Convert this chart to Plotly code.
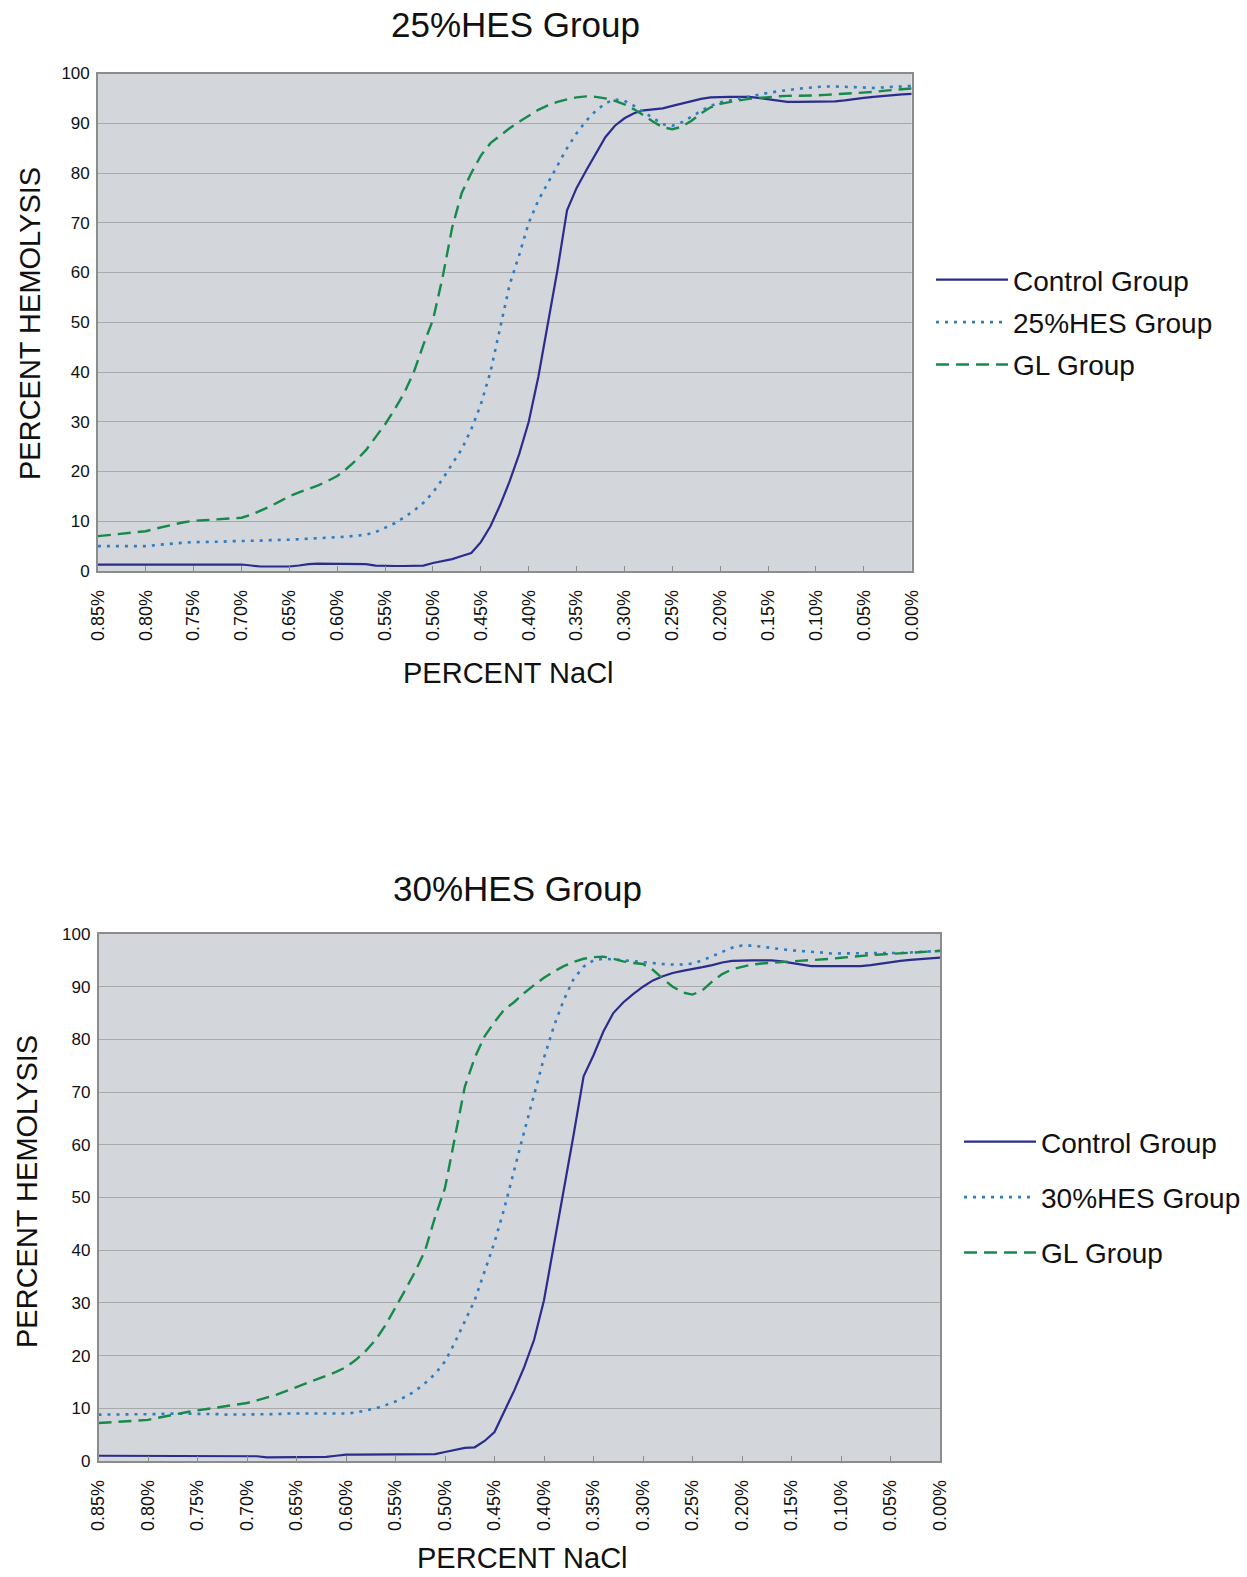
import plotly.graph_objects as go

# NaCl concentration (%) at each measurement point, high to low
nacl = [
    0.85, 0.84, 0.83, 0.82, 0.81, 0.80, 0.79, 0.78, 0.77, 0.76,
    0.75, 0.74, 0.73, 0.72, 0.71, 0.70, 0.69, 0.68, 0.67, 0.66,
    0.65, 0.64, 0.63, 0.62, 0.61, 0.60, 0.59, 0.58, 0.57, 0.56,
    0.55, 0.54, 0.53, 0.52, 0.51, 0.50, 0.49, 0.48, 0.47, 0.46,
    0.45, 0.44, 0.43, 0.42, 0.41, 0.40, 0.39, 0.38, 0.37, 0.36,
    0.35, 0.34, 0.33, 0.32, 0.31, 0.30, 0.29, 0.28, 0.27, 0.26,
    0.25, 0.24, 0.23, 0.22, 0.21, 0.20, 0.19, 0.18, 0.17, 0.16,
    0.15, 0.14, 0.13, 0.12, 0.11, 0.10, 0.09, 0.08, 0.07, 0.06,
    0.05, 0.04, 0.03, 0.02, 0.01, 0.00,
]

tick_vals = [0.85, 0.80, 0.75, 0.70, 0.65, 0.60, 0.55, 0.50, 0.45,
             0.40, 0.35, 0.30, 0.25, 0.20, 0.15, 0.10, 0.05, 0.00]
tick_text = ["0.85%", "0.80%", "0.75%", "0.70%", "0.65%", "0.60%",
             "0.55%", "0.50%", "0.45%", "0.40%", "0.35%", "0.30%",
             "0.25%", "0.20%", "0.15%", "0.10%", "0.05%", "0.00%"]

# ---- 25% HES experiment: percent hemolysis ----
control_25 = [
    1.3, 1.3, 1.3, 1.3, 1.3, 1.3, 1.3, 1.3, 1.3, 1.3,
    1.3, 1.3, 1.3, 1.3, 1.3, 1.3, 1.1, 0.9, 0.9, 0.9,
    0.9, 1.1, 1.4, 1.5, 1.5, 1.5, 1.5, 1.5, 1.4, 1.1,
    1.0, 1.0, 1.0, 1.0, 1.1, 1.6, 2.0, 2.4, 3.0, 3.6,
    5.8, 9.0, 13.2, 18.0, 23.5, 30.0, 39.0, 49.5, 60.5, 72.5,
    77.0, 80.5, 84.0, 87.2, 89.5, 91.0, 92.0, 92.6, 92.8, 93.0,
    93.5, 94.0, 94.5, 94.9, 95.2, 95.3, 95.3, 95.3, 95.3, 95.1,
    94.8, 94.5, 94.3, 94.3, 94.3, 94.3, 94.3, 94.4, 94.6, 94.9,
    95.1, 95.3, 95.5, 95.6, 95.8, 95.9,
]
hes_25 = [
    5.0, 5.0, 5.0, 5.0, 5.0, 5.0, 5.2, 5.4, 5.6, 5.7,
    5.8, 5.8, 5.9, 5.9, 6.0, 6.0, 6.0, 6.1, 6.2, 6.2,
    6.3, 6.4, 6.5, 6.5, 6.6, 6.7, 6.9, 7.1, 7.3, 7.8,
    8.7, 9.6, 10.8, 12.1, 13.7, 15.8, 18.5, 21.5, 24.5, 28.5,
    33.5, 40.0, 49.0, 57.5, 63.5, 70.0, 74.5, 78.0, 81.5, 85.0,
    88.0, 90.5, 92.5, 94.0, 94.8, 94.5, 93.5, 92.3, 91.0, 89.8,
    89.5, 90.2, 91.3, 92.5, 93.5, 94.2, 94.6, 95.0, 95.4, 95.8,
    96.1, 96.4, 96.7, 96.9, 97.1, 97.3, 97.4, 97.4, 97.3, 97.2,
    97.1, 97.1, 97.2, 97.3, 97.4, 97.5,
]
gl_25 = [
    7.0, 7.2, 7.4, 7.6, 7.8, 8.0, 8.5, 9.0, 9.4, 9.8,
    10.1, 10.2, 10.3, 10.4, 10.5, 10.7, 11.3, 12.1, 13.0, 14.0,
    15.0, 15.8, 16.5, 17.2, 18.1, 19.1, 20.6, 22.3, 24.3, 26.8,
    29.5, 32.5, 35.8, 40.0, 45.5, 50.5, 59.0, 69.0, 76.0, 80.0,
    83.5, 86.0, 87.5, 89.0, 90.3, 91.5, 92.7, 93.6, 94.3, 94.8,
    95.2, 95.4, 95.3, 95.0, 94.5, 93.8, 92.8, 91.6, 90.3, 89.2,
    88.8, 89.3, 90.5, 92.0, 93.2, 93.9, 94.3, 94.6, 94.9, 95.1,
    95.3, 95.4, 95.5, 95.5, 95.6, 95.6, 95.7, 95.8, 95.9, 96.0,
    96.1, 96.3, 96.5, 96.7, 96.9, 97.0,
]

# ---- 30% HES experiment: percent hemolysis ----
control_30 = [
    1.0, 1.0, 1.0, 1.0, 1.0, 1.0, 1.0, 1.0, 1.0, 1.0,
    1.0, 1.0, 1.0, 1.0, 1.0, 1.0, 0.9, 0.7, 0.7, 0.7,
    0.7, 0.7, 0.7, 0.8, 1.0, 1.2, 1.2, 1.2, 1.2, 1.2,
    1.2, 1.2, 1.2, 1.2, 1.3, 1.7, 2.1, 2.5, 2.6, 3.8,
    5.5, 9.3, 13.4, 17.8, 23.0, 30.5, 41.0, 51.0, 62.0, 73.0,
    77.0, 81.5, 85.0, 87.0, 88.6, 90.0, 91.2, 92.0, 92.6, 93.0,
    93.3, 93.7, 94.1, 94.6, 94.9, 95.0, 95.0, 95.0, 95.0, 94.8,
    94.5, 94.2, 93.9, 93.9, 93.9, 93.9, 93.9, 93.9, 94.1, 94.4,
    94.7, 94.9, 95.1, 95.2, 95.4, 95.5,
]
hes_30 = [
    8.8, 8.8, 8.8, 8.8, 8.8, 8.8, 8.9, 9.0, 9.0, 9.0,
    9.0, 9.0, 8.9, 8.8, 8.8, 8.8, 8.8, 8.8, 8.9, 9.0,
    9.0, 9.0, 9.0, 9.0, 9.0, 9.0, 9.2, 9.6, 10.0, 10.6,
    11.3, 12.2, 13.3, 14.8, 16.5, 18.9, 22.5, 26.5, 30.5, 36.0,
    41.5, 48.0, 55.5, 62.5, 69.5, 76.5, 82.5, 87.5, 91.5, 93.8,
    95.0, 95.3, 95.2, 95.0, 94.9, 94.7, 94.5, 94.3, 94.2, 94.2,
    94.4, 95.0, 95.8, 96.6, 97.4, 97.8, 97.8, 97.6, 97.3, 97.1,
    96.9, 96.8, 96.6, 96.5, 96.3, 96.3, 96.3, 96.3, 96.3, 96.3,
    96.4, 96.4, 96.5, 96.6, 96.7, 96.8,
]
gl_30 = [
    7.2, 7.3, 7.4, 7.5, 7.6, 7.8, 8.2, 8.6, 9.0, 9.3,
    9.6, 9.9, 10.2, 10.5, 10.7, 11.0, 11.5, 12.0, 12.6, 13.3,
    14.0, 14.7, 15.4, 16.1, 16.9, 17.8, 19.2, 20.9, 23.0, 25.8,
    29.1, 32.5, 36.0, 40.0, 46.3, 51.8, 61.4, 71.0, 76.5, 80.6,
    83.3, 85.7, 87.1, 88.8, 90.3, 91.7, 92.9, 93.9, 94.7, 95.3,
    95.6, 95.7, 95.3, 94.8, 94.5, 94.3, 93.2, 91.5, 90.0, 88.9,
    88.5, 89.3, 91.0, 92.4, 93.3, 93.8, 94.2, 94.4, 94.6, 94.7,
    94.8, 94.9, 95.0, 95.1, 95.3, 95.5, 95.7, 95.9, 96.0, 96.1,
    96.2, 96.3, 96.4, 96.5, 96.6, 96.8,
]

W, H = 1247, 1577
FONT = "Liberation Sans, Arial, sans-serif"
NAVY = "#2a2d8c"
BLUE = "#2f7cc0"
GREEN = "#17894b"
PLOT_BG = "#d3d6db"
GRID = "#a7a9ad"
FRAME = "#8c8c8c"


def px_x(v):
    return v / W


def px_y(v):
    return 1 - v / H


series = [
    ("Control Group", control_25, control_30, NAVY, "solid", 2.2),
    (None, hes_25, hes_30, BLUE, "3px,6px", 2.6),
    ("GL Group", gl_25, gl_30, GREEN, "13px,7px", 2.4),
]

fig = go.Figure()
for idx, (name, top_vals, bottom_vals, color, dash, width) in enumerate(series):
    top_name = name if name else "25%HES Group"
    bot_name = name if name else "30%HES Group"
    fig.add_trace(go.Scatter(
        x=nacl, y=top_vals, mode="lines", name=top_name,
        line=dict(color=color, dash=dash, width=width),
        xaxis="x", yaxis="y", legend="legend", legendgroup="a%d" % idx,
    ))
    fig.add_trace(go.Scatter(
        x=nacl, y=bottom_vals, mode="lines", name=bot_name,
        line=dict(color=color, dash=dash, width=width),
        xaxis="x2", yaxis="y2", legend="legend2", legendgroup="b%d" % idx,
    ))

xaxis_common = dict(
    range=[0.85, 0.0], tickmode="array", tickvals=tick_vals, ticktext=tick_text,
    tickangle=-90, tickfont=dict(family=FONT, size=18, color="#111"),
    showgrid=False, zeroline=False, showline=True, linecolor=FRAME, linewidth=1.5,
    mirror=True, ticks="inside", ticklen=5, tickcolor=FRAME, ticklabelstandoff=10,
    automargin=False,
)
yaxis_common = dict(
    range=[0, 100], dtick=10, tickfont=dict(family=FONT, size=17, color="#111"),
    showgrid=True, gridcolor=GRID, gridwidth=1, zeroline=False,
    showline=True, linecolor=FRAME, linewidth=1.5, mirror=True,
    ticks="", ticklabelstandoff=3, automargin=False,
)

legend_common = dict(
    xanchor="left", yanchor="top",
    font=dict(family=FONT, size=28, color="#111"),
    itemwidth=72, bgcolor="rgba(0,0,0,0)", traceorder="grouped",
)

fig.update_layout(
    width=W, height=H,
    margin=dict(l=0, r=0, t=0, b=0, autoexpand=False),
    paper_bgcolor="white",
    plot_bgcolor=PLOT_BG,
    font=dict(family=FONT, color="#111"),
    xaxis=dict(domain=[px_x(97.9), px_x(911.7)], anchor="y", **xaxis_common),
    yaxis=dict(domain=[px_y(571), px_y(73.5)], anchor="x", **yaxis_common),
    xaxis2=dict(domain=[px_x(98.5), px_x(940)], anchor="y2", **xaxis_common),
    yaxis2=dict(domain=[px_y(1461), px_y(934)], anchor="x2", **yaxis_common),
    legend=dict(x=px_x(931), y=px_y(255), tracegroupgap=3, **legend_common),
    legend2=dict(x=px_x(959), y=px_y(1117), tracegroupgap=16, **legend_common),
    showlegend=True,
)

annotations = [
    dict(text="25%HES Group", x=px_x(515), y=px_y(25), font=dict(size=35)),
    dict(text="30%HES Group", x=px_x(517), y=px_y(889), font=dict(size=35)),
    dict(text="PERCENT NaCl", x=px_x(508), y=px_y(673), font=dict(size=29)),
    dict(text="PERCENT NaCl", x=px_x(522), y=px_y(1558), font=dict(size=29)),
    dict(text="PERCENT HEMOLYSIS", x=px_x(30), y=px_y(324), font=dict(size=29), textangle=-90),
    dict(text="PERCENT HEMOLYSIS", x=px_x(27), y=px_y(1192), font=dict(size=29), textangle=-90),
]
for a in annotations:
    a.update(xref="paper", yref="paper", xanchor="center", yanchor="middle",
             showarrow=False)
    a["font"] = dict(family=FONT, color="#111", **a["font"])
fig.update_layout(annotations=annotations)

fig.write_html("out.html")
